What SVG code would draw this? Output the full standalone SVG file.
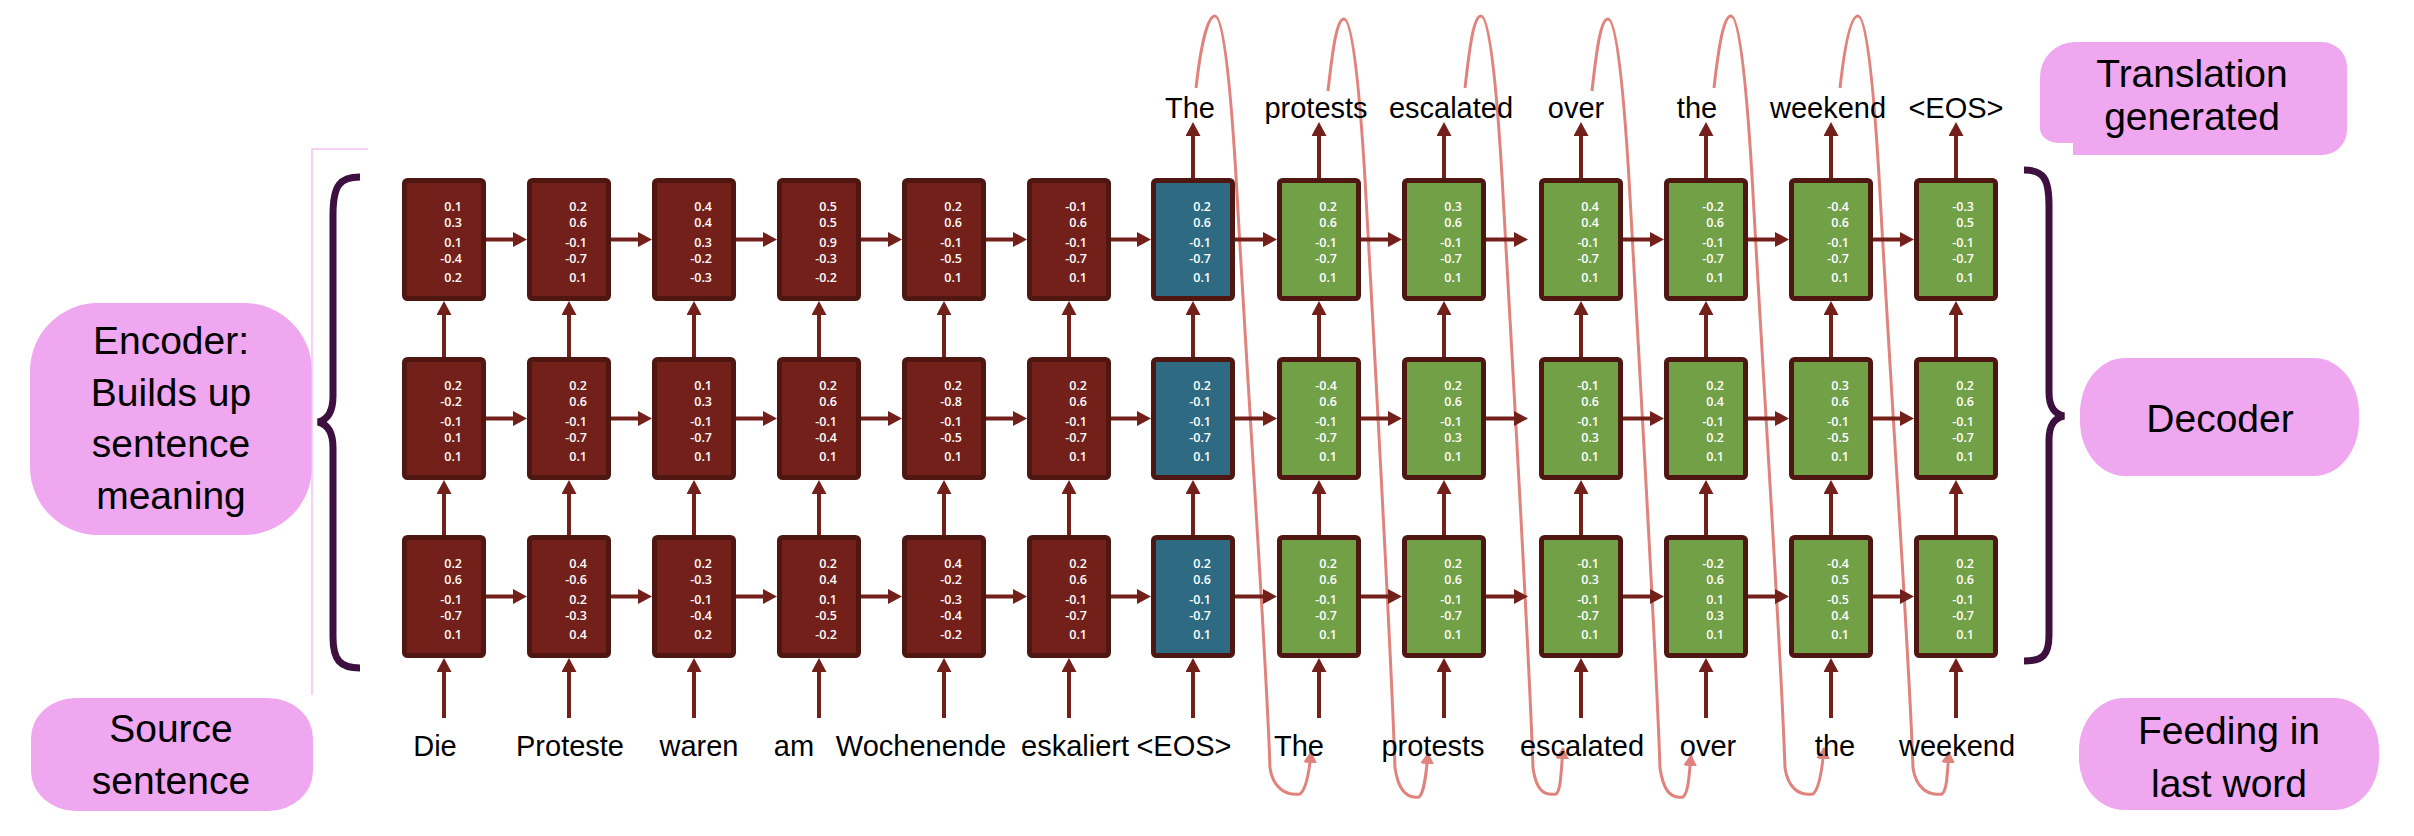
<svg xmlns="http://www.w3.org/2000/svg" width="2414" height="836" viewBox="0 0 2414 836">
  <style>
    .cell { stroke: #4f1712; stroke-width: 5; }
    .enc .cell { fill: #73201a; }
    .ctx .cell { fill: #2e6a82; }
    .dec .cell { fill: #71a047; }
    .v { font-family: "Open Sans", "Liberation Sans", sans-serif; font-size: 12.5px; font-weight: 600; fill: #ffffff; text-anchor: end; }
    .w { font-family: "Liberation Sans", Arial, sans-serif; font-size: 29px; fill: #000000; text-anchor: middle; }
    .lbl { font-family: "Liberation Sans", Arial, sans-serif; font-size: 39px; fill: #000000; text-anchor: middle; }
    .pink { fill: #efa7ef; }
    .arr { stroke: #73201a; stroke-width: 4; fill: none; marker-end: url(#ah); }
    .loop { stroke: #e0837d; stroke-width: 3; fill: none; marker-end: url(#sah); }
    .brace { stroke: #3e1040; stroke-width: 7; fill: none; }
  </style>
  <defs>
    <marker id="ah" viewBox="0 0 14 15" refX="4" refY="7.5" markerWidth="14" markerHeight="15" markerUnits="userSpaceOnUse" orient="auto">
      <path d="M0,0 L14,7.5 L0,15 Z" fill="#73201a"/>
    </marker>
    <marker id="sah" viewBox="0 0 12 14" refX="11" refY="7" markerWidth="12" markerHeight="14" markerUnits="userSpaceOnUse" orient="auto">
      <path d="M0,0 L12,7 L0,14 Z" fill="#e0837d"/>
    </marker>
  </defs>
  <rect width="2414" height="836" fill="#ffffff"/>

  <!-- side labels -->
  <g id="label-encoder">
    <rect class="pink" x="30" y="303" width="282" height="232" rx="68" ry="68"/>
    <text class="lbl" x="171" y="354">Encoder:</text>
    <text class="lbl" x="171" y="405.5">Builds up</text>
    <text class="lbl" x="171" y="457">sentence</text>
    <text class="lbl" x="171" y="508.5">meaning</text>
  </g>
  <g id="label-source">
    <rect class="pink" x="31" y="698" width="282" height="113" rx="45" ry="40"/>
    <text class="lbl" x="171" y="742">Source</text>
    <text class="lbl" x="171" y="794">sentence</text>
  </g>
  <g id="label-translation">
    <path class="pink" d="M2075,42 L2322,42 A25,25 0 0 1 2347,67 L2347,130 A25,25 0 0 1 2322,155 L2073,155 L2073,143 L2058,143 A18,15 0 0 1 2040,128 L2040,77 A35,35 0 0 1 2075,42 Z"/>
    <text class="lbl" x="2192" y="87">Translation</text>
    <text class="lbl" x="2192" y="130">generated</text>
  </g>
  <g id="label-decoder">
    <rect class="pink" x="2080" y="358" width="279" height="118" rx="45" ry="55"/>
    <text class="lbl" x="2220" y="432">Decoder</text>
  </g>
  <g id="label-feeding">
    <rect class="pink" x="2079" y="698" width="300" height="112" rx="45" ry="52"/>
    <text class="lbl" x="2229" y="744">Feeding in</text>
    <text class="lbl" x="2229" y="797">last word</text>
  </g>

  <!-- thin frame line beside the encoder label -->
  <path d="M368,149 L312,149 L312,695" stroke="#f2c2f2" stroke-width="1.5" fill="none"/>

  <!-- braces -->
  <g id="brace-encoder">
    <path class="brace" d="M360,177 C340,177 333,185 333,215 L333,396 C333,412 327,420 318,422 C327,424 333,432 333,448 L333,637 C333,660 340,668 360,668"/>
  </g>
  <g id="brace-decoder">
    <path class="brace" d="M2024,170 C2043,170 2049,178 2049,205 L2049,392 C2049,408 2055,414 2064,416 C2055,418 2049,424 2049,440 L2049,635 C2049,655 2043,661 2024,661"/>
  </g>

  <!-- feedback loops: each generated word is fed back in as the next input -->
  <g id="feedback">
    <path class="loop" d="M1196,88 C1201,43 1208,16 1215,16 C1223,16 1230,76 1236,176 C1251,446 1266,648 1270,768 C1273,788 1286,796 1300,794 C1305,790 1309,776 1311,752"/>
    <path class="loop" d="M1328,91 C1333,46 1337,19 1344,19 C1352,19 1359,79 1365,179 C1380,449 1391,648 1395,768 C1398,788 1405,799 1419,797 C1424,793 1426,777 1428,753"/>
    <path class="loop" d="M1465,88 C1470,43 1474,16 1481,16 C1489,16 1496,76 1502,176 C1517,446 1529,648 1533,768 C1536,788 1542,796 1556,794 C1561,790 1561,772 1563,748"/>
    <path class="loop" d="M1592,91 C1597,46 1601,19 1608,19 C1616,19 1623,79 1629,179 C1644,449 1656,648 1660,768 C1663,788 1669,799 1683,797 C1688,793 1689,779 1691,755"/>
    <path class="loop" d="M1714,88 C1719,43 1724,16 1731,16 C1739,16 1746,76 1752,176 C1767,446 1781,648 1785,768 C1788,788 1799,796 1813,794 C1818,790 1822,772 1824,748"/>
    <path class="loop" d="M1840,88 C1845,43 1851,16 1858,16 C1866,16 1873,76 1879,176 C1894,446 1909,648 1913,768 C1916,788 1928,796 1942,794 C1947,790 1947,776 1949,752"/>
  </g>

  <!-- recurrent links between time steps -->
  <g id="connectors">
    <line class="arr" x1="486" y1="239.5" x2="517" y2="239.5"/>
    <line class="arr" x1="611" y1="239.5" x2="642" y2="239.5"/>
    <line class="arr" x1="736" y1="239.5" x2="767" y2="239.5"/>
    <line class="arr" x1="861" y1="239.5" x2="892" y2="239.5"/>
    <line class="arr" x1="986" y1="239.5" x2="1017" y2="239.5"/>
    <line class="arr" x1="1111" y1="239.5" x2="1141" y2="239.5"/>
    <line class="arr" x1="1235" y1="239.5" x2="1267" y2="239.5"/>
    <line class="arr" x1="1361" y1="239.5" x2="1392" y2="239.5"/>
    <line class="arr" x1="1486" y1="239.5" x2="1518" y2="239.5"/>
    <line class="arr" x1="1623" y1="239.5" x2="1654" y2="239.5"/>
    <line class="arr" x1="1748" y1="239.5" x2="1779" y2="239.5"/>
    <line class="arr" x1="1873" y1="239.5" x2="1904" y2="239.5"/>

    <line class="arr" x1="486" y1="418.5" x2="517" y2="418.5"/>
    <line class="arr" x1="611" y1="418.5" x2="642" y2="418.5"/>
    <line class="arr" x1="736" y1="418.5" x2="767" y2="418.5"/>
    <line class="arr" x1="861" y1="418.5" x2="892" y2="418.5"/>
    <line class="arr" x1="986" y1="418.5" x2="1017" y2="418.5"/>
    <line class="arr" x1="1111" y1="418.5" x2="1141" y2="418.5"/>
    <line class="arr" x1="1235" y1="418.5" x2="1267" y2="418.5"/>
    <line class="arr" x1="1361" y1="418.5" x2="1392" y2="418.5"/>
    <line class="arr" x1="1486" y1="418.5" x2="1518" y2="418.5"/>
    <line class="arr" x1="1623" y1="418.5" x2="1654" y2="418.5"/>
    <line class="arr" x1="1748" y1="418.5" x2="1779" y2="418.5"/>
    <line class="arr" x1="1873" y1="418.5" x2="1904" y2="418.5"/>

    <line class="arr" x1="486" y1="596.5" x2="517" y2="596.5"/>
    <line class="arr" x1="611" y1="596.5" x2="642" y2="596.5"/>
    <line class="arr" x1="736" y1="596.5" x2="767" y2="596.5"/>
    <line class="arr" x1="861" y1="596.5" x2="892" y2="596.5"/>
    <line class="arr" x1="986" y1="596.5" x2="1017" y2="596.5"/>
    <line class="arr" x1="1111" y1="596.5" x2="1141" y2="596.5"/>
    <line class="arr" x1="1235" y1="596.5" x2="1267" y2="596.5"/>
    <line class="arr" x1="1361" y1="596.5" x2="1392" y2="596.5"/>
    <line class="arr" x1="1486" y1="596.5" x2="1518" y2="596.5"/>
    <line class="arr" x1="1623" y1="596.5" x2="1654" y2="596.5"/>
    <line class="arr" x1="1748" y1="596.5" x2="1779" y2="596.5"/>
    <line class="arr" x1="1873" y1="596.5" x2="1904" y2="596.5"/>
  </g>
  <!-- links between layers, word inputs and word outputs -->
  <g id="connectors-vertical">
    <line class="arr" x1="444" y1="718" x2="444" y2="668"/>
    <line class="arr" x1="569" y1="718" x2="569" y2="668"/>
    <line class="arr" x1="694" y1="718" x2="694" y2="668"/>
    <line class="arr" x1="819" y1="718" x2="819" y2="668"/>
    <line class="arr" x1="944" y1="718" x2="944" y2="668"/>
    <line class="arr" x1="1069" y1="718" x2="1069" y2="668"/>
    <line class="arr" x1="1193" y1="718" x2="1193" y2="668"/>
    <line class="arr" x1="1319" y1="718" x2="1319" y2="668"/>
    <line class="arr" x1="1444" y1="718" x2="1444" y2="668"/>
    <line class="arr" x1="1581" y1="718" x2="1581" y2="668"/>
    <line class="arr" x1="1706" y1="718" x2="1706" y2="668"/>
    <line class="arr" x1="1831" y1="718" x2="1831" y2="668"/>
    <line class="arr" x1="1956" y1="718" x2="1956" y2="668"/>

    <line class="arr" x1="444" y1="535" x2="444" y2="490"/>
    <line class="arr" x1="569" y1="535" x2="569" y2="490"/>
    <line class="arr" x1="694" y1="535" x2="694" y2="490"/>
    <line class="arr" x1="819" y1="535" x2="819" y2="490"/>
    <line class="arr" x1="944" y1="535" x2="944" y2="490"/>
    <line class="arr" x1="1069" y1="535" x2="1069" y2="490"/>
    <line class="arr" x1="1193" y1="535" x2="1193" y2="490"/>
    <line class="arr" x1="1319" y1="535" x2="1319" y2="490"/>
    <line class="arr" x1="1444" y1="535" x2="1444" y2="490"/>
    <line class="arr" x1="1581" y1="535" x2="1581" y2="490"/>
    <line class="arr" x1="1706" y1="535" x2="1706" y2="490"/>
    <line class="arr" x1="1831" y1="535" x2="1831" y2="490"/>
    <line class="arr" x1="1956" y1="535" x2="1956" y2="490"/>

    <line class="arr" x1="444" y1="357" x2="444" y2="311"/>
    <line class="arr" x1="569" y1="357" x2="569" y2="311"/>
    <line class="arr" x1="694" y1="357" x2="694" y2="311"/>
    <line class="arr" x1="819" y1="357" x2="819" y2="311"/>
    <line class="arr" x1="944" y1="357" x2="944" y2="311"/>
    <line class="arr" x1="1069" y1="357" x2="1069" y2="311"/>
    <line class="arr" x1="1193" y1="357" x2="1193" y2="311"/>
    <line class="arr" x1="1319" y1="357" x2="1319" y2="311"/>
    <line class="arr" x1="1444" y1="357" x2="1444" y2="311"/>
    <line class="arr" x1="1581" y1="357" x2="1581" y2="311"/>
    <line class="arr" x1="1706" y1="357" x2="1706" y2="311"/>
    <line class="arr" x1="1831" y1="357" x2="1831" y2="311"/>
    <line class="arr" x1="1956" y1="357" x2="1956" y2="311"/>

    <line class="arr" x1="1193" y1="178" x2="1193" y2="132"/>
    <line class="arr" x1="1319" y1="178" x2="1319" y2="132"/>
    <line class="arr" x1="1444" y1="178" x2="1444" y2="132"/>
    <line class="arr" x1="1581" y1="178" x2="1581" y2="132"/>
    <line class="arr" x1="1706" y1="178" x2="1706" y2="132"/>
    <line class="arr" x1="1831" y1="178" x2="1831" y2="132"/>
    <line class="arr" x1="1956" y1="178" x2="1956" y2="132"/>
  </g>

  <!-- encoder cells -->
  <g id="enc-c0-top" class="enc" transform="translate(402,178)"><rect class="cell" x="2.5" y="2.5" width="79" height="118" rx="3"/><text class="v"><tspan x="60" y="33">0.1</tspan><tspan x="60" y="48.5">0.3</tspan><tspan x="60" y="68.5">0.1</tspan><tspan x="60" y="85">-0.4</tspan><tspan x="60" y="104">0.2</tspan></text></g>
  <g id="enc-c0-mid" class="enc" transform="translate(402,357)"><rect class="cell" x="2.5" y="2.5" width="79" height="118" rx="3"/><text class="v"><tspan x="60" y="33">0.2</tspan><tspan x="60" y="48.5">-0.2</tspan><tspan x="60" y="68.5">-0.1</tspan><tspan x="60" y="85">0.1</tspan><tspan x="60" y="104">0.1</tspan></text></g>
  <g id="enc-c0-bot" class="enc" transform="translate(402,535)"><rect class="cell" x="2.5" y="2.5" width="79" height="118" rx="3"/><text class="v"><tspan x="60" y="33">0.2</tspan><tspan x="60" y="48.5">0.6</tspan><tspan x="60" y="68.5">-0.1</tspan><tspan x="60" y="85">-0.7</tspan><tspan x="60" y="104">0.1</tspan></text></g>

  <g id="enc-c1-top" class="enc" transform="translate(527,178)"><rect class="cell" x="2.5" y="2.5" width="79" height="118" rx="3"/><text class="v"><tspan x="60" y="33">0.2</tspan><tspan x="60" y="48.5">0.6</tspan><tspan x="60" y="68.5">-0.1</tspan><tspan x="60" y="85">-0.7</tspan><tspan x="60" y="104">0.1</tspan></text></g>
  <g id="enc-c1-mid" class="enc" transform="translate(527,357)"><rect class="cell" x="2.5" y="2.5" width="79" height="118" rx="3"/><text class="v"><tspan x="60" y="33">0.2</tspan><tspan x="60" y="48.5">0.6</tspan><tspan x="60" y="68.5">-0.1</tspan><tspan x="60" y="85">-0.7</tspan><tspan x="60" y="104">0.1</tspan></text></g>
  <g id="enc-c1-bot" class="enc" transform="translate(527,535)"><rect class="cell" x="2.5" y="2.5" width="79" height="118" rx="3"/><text class="v"><tspan x="60" y="33">0.4</tspan><tspan x="60" y="48.5">-0.6</tspan><tspan x="60" y="68.5">0.2</tspan><tspan x="60" y="85">-0.3</tspan><tspan x="60" y="104">0.4</tspan></text></g>

  <g id="enc-c2-top" class="enc" transform="translate(652,178)"><rect class="cell" x="2.5" y="2.5" width="79" height="118" rx="3"/><text class="v"><tspan x="60" y="33">0.4</tspan><tspan x="60" y="48.5">0.4</tspan><tspan x="60" y="68.5">0.3</tspan><tspan x="60" y="85">-0.2</tspan><tspan x="60" y="104">-0.3</tspan></text></g>
  <g id="enc-c2-mid" class="enc" transform="translate(652,357)"><rect class="cell" x="2.5" y="2.5" width="79" height="118" rx="3"/><text class="v"><tspan x="60" y="33">0.1</tspan><tspan x="60" y="48.5">0.3</tspan><tspan x="60" y="68.5">-0.1</tspan><tspan x="60" y="85">-0.7</tspan><tspan x="60" y="104">0.1</tspan></text></g>
  <g id="enc-c2-bot" class="enc" transform="translate(652,535)"><rect class="cell" x="2.5" y="2.5" width="79" height="118" rx="3"/><text class="v"><tspan x="60" y="33">0.2</tspan><tspan x="60" y="48.5">-0.3</tspan><tspan x="60" y="68.5">-0.1</tspan><tspan x="60" y="85">-0.4</tspan><tspan x="60" y="104">0.2</tspan></text></g>

  <g id="enc-c3-top" class="enc" transform="translate(777,178)"><rect class="cell" x="2.5" y="2.5" width="79" height="118" rx="3"/><text class="v"><tspan x="60" y="33">0.5</tspan><tspan x="60" y="48.5">0.5</tspan><tspan x="60" y="68.5">0.9</tspan><tspan x="60" y="85">-0.3</tspan><tspan x="60" y="104">-0.2</tspan></text></g>
  <g id="enc-c3-mid" class="enc" transform="translate(777,357)"><rect class="cell" x="2.5" y="2.5" width="79" height="118" rx="3"/><text class="v"><tspan x="60" y="33">0.2</tspan><tspan x="60" y="48.5">0.6</tspan><tspan x="60" y="68.5">-0.1</tspan><tspan x="60" y="85">-0.4</tspan><tspan x="60" y="104">0.1</tspan></text></g>
  <g id="enc-c3-bot" class="enc" transform="translate(777,535)"><rect class="cell" x="2.5" y="2.5" width="79" height="118" rx="3"/><text class="v"><tspan x="60" y="33">0.2</tspan><tspan x="60" y="48.5">0.4</tspan><tspan x="60" y="68.5">0.1</tspan><tspan x="60" y="85">-0.5</tspan><tspan x="60" y="104">-0.2</tspan></text></g>

  <g id="enc-c4-top" class="enc" transform="translate(902,178)"><rect class="cell" x="2.5" y="2.5" width="79" height="118" rx="3"/><text class="v"><tspan x="60" y="33">0.2</tspan><tspan x="60" y="48.5">0.6</tspan><tspan x="60" y="68.5">-0.1</tspan><tspan x="60" y="85">-0.5</tspan><tspan x="60" y="104">0.1</tspan></text></g>
  <g id="enc-c4-mid" class="enc" transform="translate(902,357)"><rect class="cell" x="2.5" y="2.5" width="79" height="118" rx="3"/><text class="v"><tspan x="60" y="33">0.2</tspan><tspan x="60" y="48.5">-0.8</tspan><tspan x="60" y="68.5">-0.1</tspan><tspan x="60" y="85">-0.5</tspan><tspan x="60" y="104">0.1</tspan></text></g>
  <g id="enc-c4-bot" class="enc" transform="translate(902,535)"><rect class="cell" x="2.5" y="2.5" width="79" height="118" rx="3"/><text class="v"><tspan x="60" y="33">0.4</tspan><tspan x="60" y="48.5">-0.2</tspan><tspan x="60" y="68.5">-0.3</tspan><tspan x="60" y="85">-0.4</tspan><tspan x="60" y="104">-0.2</tspan></text></g>

  <g id="enc-c5-top" class="enc" transform="translate(1027,178)"><rect class="cell" x="2.5" y="2.5" width="79" height="118" rx="3"/><text class="v"><tspan x="60" y="33">-0.1</tspan><tspan x="60" y="48.5">0.6</tspan><tspan x="60" y="68.5">-0.1</tspan><tspan x="60" y="85">-0.7</tspan><tspan x="60" y="104">0.1</tspan></text></g>
  <g id="enc-c5-mid" class="enc" transform="translate(1027,357)"><rect class="cell" x="2.5" y="2.5" width="79" height="118" rx="3"/><text class="v"><tspan x="60" y="33">0.2</tspan><tspan x="60" y="48.5">0.6</tspan><tspan x="60" y="68.5">-0.1</tspan><tspan x="60" y="85">-0.7</tspan><tspan x="60" y="104">0.1</tspan></text></g>
  <g id="enc-c5-bot" class="enc" transform="translate(1027,535)"><rect class="cell" x="2.5" y="2.5" width="79" height="118" rx="3"/><text class="v"><tspan x="60" y="33">0.2</tspan><tspan x="60" y="48.5">0.6</tspan><tspan x="60" y="68.5">-0.1</tspan><tspan x="60" y="85">-0.7</tspan><tspan x="60" y="104">0.1</tspan></text></g>

  <!-- end-of-sentence step: the encoded sentence -->
  <g id="ctx-c6-top" class="ctx" transform="translate(1151,178)"><rect class="cell" x="2.5" y="2.5" width="79" height="118" rx="3"/><text class="v"><tspan x="60" y="33">0.2</tspan><tspan x="60" y="48.5">0.6</tspan><tspan x="60" y="68.5">-0.1</tspan><tspan x="60" y="85">-0.7</tspan><tspan x="60" y="104">0.1</tspan></text></g>
  <g id="ctx-c6-mid" class="ctx" transform="translate(1151,357)"><rect class="cell" x="2.5" y="2.5" width="79" height="118" rx="3"/><text class="v"><tspan x="60" y="33">0.2</tspan><tspan x="60" y="48.5">-0.1</tspan><tspan x="60" y="68.5">-0.1</tspan><tspan x="60" y="85">-0.7</tspan><tspan x="60" y="104">0.1</tspan></text></g>
  <g id="ctx-c6-bot" class="ctx" transform="translate(1151,535)"><rect class="cell" x="2.5" y="2.5" width="79" height="118" rx="3"/><text class="v"><tspan x="60" y="33">0.2</tspan><tspan x="60" y="48.5">0.6</tspan><tspan x="60" y="68.5">-0.1</tspan><tspan x="60" y="85">-0.7</tspan><tspan x="60" y="104">0.1</tspan></text></g>

  <!-- decoder cells -->
  <g id="dec-c7-top" class="dec" transform="translate(1277,178)"><rect class="cell" x="2.5" y="2.5" width="79" height="118" rx="3"/><text class="v"><tspan x="60" y="33">0.2</tspan><tspan x="60" y="48.5">0.6</tspan><tspan x="60" y="68.5">-0.1</tspan><tspan x="60" y="85">-0.7</tspan><tspan x="60" y="104">0.1</tspan></text></g>
  <g id="dec-c7-mid" class="dec" transform="translate(1277,357)"><rect class="cell" x="2.5" y="2.5" width="79" height="118" rx="3"/><text class="v"><tspan x="60" y="33">-0.4</tspan><tspan x="60" y="48.5">0.6</tspan><tspan x="60" y="68.5">-0.1</tspan><tspan x="60" y="85">-0.7</tspan><tspan x="60" y="104">0.1</tspan></text></g>
  <g id="dec-c7-bot" class="dec" transform="translate(1277,535)"><rect class="cell" x="2.5" y="2.5" width="79" height="118" rx="3"/><text class="v"><tspan x="60" y="33">0.2</tspan><tspan x="60" y="48.5">0.6</tspan><tspan x="60" y="68.5">-0.1</tspan><tspan x="60" y="85">-0.7</tspan><tspan x="60" y="104">0.1</tspan></text></g>

  <g id="dec-c8-top" class="dec" transform="translate(1402,178)"><rect class="cell" x="2.5" y="2.5" width="79" height="118" rx="3"/><text class="v"><tspan x="60" y="33">0.3</tspan><tspan x="60" y="48.5">0.6</tspan><tspan x="60" y="68.5">-0.1</tspan><tspan x="60" y="85">-0.7</tspan><tspan x="60" y="104">0.1</tspan></text></g>
  <g id="dec-c8-mid" class="dec" transform="translate(1402,357)"><rect class="cell" x="2.5" y="2.5" width="79" height="118" rx="3"/><text class="v"><tspan x="60" y="33">0.2</tspan><tspan x="60" y="48.5">0.6</tspan><tspan x="60" y="68.5">-0.1</tspan><tspan x="60" y="85">0.3</tspan><tspan x="60" y="104">0.1</tspan></text></g>
  <g id="dec-c8-bot" class="dec" transform="translate(1402,535)"><rect class="cell" x="2.5" y="2.5" width="79" height="118" rx="3"/><text class="v"><tspan x="60" y="33">0.2</tspan><tspan x="60" y="48.5">0.6</tspan><tspan x="60" y="68.5">-0.1</tspan><tspan x="60" y="85">-0.7</tspan><tspan x="60" y="104">0.1</tspan></text></g>

  <g id="dec-c9-top" class="dec" transform="translate(1539,178)"><rect class="cell" x="2.5" y="2.5" width="79" height="118" rx="3"/><text class="v"><tspan x="60" y="33">0.4</tspan><tspan x="60" y="48.5">0.4</tspan><tspan x="60" y="68.5">-0.1</tspan><tspan x="60" y="85">-0.7</tspan><tspan x="60" y="104">0.1</tspan></text></g>
  <g id="dec-c9-mid" class="dec" transform="translate(1539,357)"><rect class="cell" x="2.5" y="2.5" width="79" height="118" rx="3"/><text class="v"><tspan x="60" y="33">-0.1</tspan><tspan x="60" y="48.5">0.6</tspan><tspan x="60" y="68.5">-0.1</tspan><tspan x="60" y="85">0.3</tspan><tspan x="60" y="104">0.1</tspan></text></g>
  <g id="dec-c9-bot" class="dec" transform="translate(1539,535)"><rect class="cell" x="2.5" y="2.5" width="79" height="118" rx="3"/><text class="v"><tspan x="60" y="33">-0.1</tspan><tspan x="60" y="48.5">0.3</tspan><tspan x="60" y="68.5">-0.1</tspan><tspan x="60" y="85">-0.7</tspan><tspan x="60" y="104">0.1</tspan></text></g>

  <g id="dec-c10-top" class="dec" transform="translate(1664,178)"><rect class="cell" x="2.5" y="2.5" width="79" height="118" rx="3"/><text class="v"><tspan x="60" y="33">-0.2</tspan><tspan x="60" y="48.5">0.6</tspan><tspan x="60" y="68.5">-0.1</tspan><tspan x="60" y="85">-0.7</tspan><tspan x="60" y="104">0.1</tspan></text></g>
  <g id="dec-c10-mid" class="dec" transform="translate(1664,357)"><rect class="cell" x="2.5" y="2.5" width="79" height="118" rx="3"/><text class="v"><tspan x="60" y="33">0.2</tspan><tspan x="60" y="48.5">0.4</tspan><tspan x="60" y="68.5">-0.1</tspan><tspan x="60" y="85">0.2</tspan><tspan x="60" y="104">0.1</tspan></text></g>
  <g id="dec-c10-bot" class="dec" transform="translate(1664,535)"><rect class="cell" x="2.5" y="2.5" width="79" height="118" rx="3"/><text class="v"><tspan x="60" y="33">-0.2</tspan><tspan x="60" y="48.5">0.6</tspan><tspan x="60" y="68.5">0.1</tspan><tspan x="60" y="85">0.3</tspan><tspan x="60" y="104">0.1</tspan></text></g>

  <g id="dec-c11-top" class="dec" transform="translate(1789,178)"><rect class="cell" x="2.5" y="2.5" width="79" height="118" rx="3"/><text class="v"><tspan x="60" y="33">-0.4</tspan><tspan x="60" y="48.5">0.6</tspan><tspan x="60" y="68.5">-0.1</tspan><tspan x="60" y="85">-0.7</tspan><tspan x="60" y="104">0.1</tspan></text></g>
  <g id="dec-c11-mid" class="dec" transform="translate(1789,357)"><rect class="cell" x="2.5" y="2.5" width="79" height="118" rx="3"/><text class="v"><tspan x="60" y="33">0.3</tspan><tspan x="60" y="48.5">0.6</tspan><tspan x="60" y="68.5">-0.1</tspan><tspan x="60" y="85">-0.5</tspan><tspan x="60" y="104">0.1</tspan></text></g>
  <g id="dec-c11-bot" class="dec" transform="translate(1789,535)"><rect class="cell" x="2.5" y="2.5" width="79" height="118" rx="3"/><text class="v"><tspan x="60" y="33">-0.4</tspan><tspan x="60" y="48.5">0.5</tspan><tspan x="60" y="68.5">-0.5</tspan><tspan x="60" y="85">0.4</tspan><tspan x="60" y="104">0.1</tspan></text></g>

  <g id="dec-c12-top" class="dec" transform="translate(1914,178)"><rect class="cell" x="2.5" y="2.5" width="79" height="118" rx="3"/><text class="v"><tspan x="60" y="33">-0.3</tspan><tspan x="60" y="48.5">0.5</tspan><tspan x="60" y="68.5">-0.1</tspan><tspan x="60" y="85">-0.7</tspan><tspan x="60" y="104">0.1</tspan></text></g>
  <g id="dec-c12-mid" class="dec" transform="translate(1914,357)"><rect class="cell" x="2.5" y="2.5" width="79" height="118" rx="3"/><text class="v"><tspan x="60" y="33">0.2</tspan><tspan x="60" y="48.5">0.6</tspan><tspan x="60" y="68.5">-0.1</tspan><tspan x="60" y="85">-0.7</tspan><tspan x="60" y="104">0.1</tspan></text></g>
  <g id="dec-c12-bot" class="dec" transform="translate(1914,535)"><rect class="cell" x="2.5" y="2.5" width="79" height="118" rx="3"/><text class="v"><tspan x="60" y="33">0.2</tspan><tspan x="60" y="48.5">0.6</tspan><tspan x="60" y="68.5">-0.1</tspan><tspan x="60" y="85">-0.7</tspan><tspan x="60" y="104">0.1</tspan></text></g>

  <!-- input words -->
  <g id="inputs">
    <text class="w" x="435" y="756">Die</text>
    <text class="w" x="570" y="756">Proteste</text>
    <text class="w" x="699" y="756">waren</text>
    <text class="w" x="794" y="756">am</text>
    <text class="w" x="921" y="756">Wochenende</text>
    <text class="w" x="1075" y="756">eskaliert</text>
    <text class="w" x="1184" y="756">&lt;EOS&gt;</text>
    <text class="w" x="1299" y="756">The</text>
    <text class="w" x="1433" y="756">protests</text>
    <text class="w" x="1582" y="756">escalated</text>
    <text class="w" x="1708" y="756">over</text>
    <text class="w" x="1835" y="756">the</text>
    <text class="w" x="1957" y="756">weekend</text>
  </g>

  <!-- output words -->
  <g id="outputs">
    <text class="w" x="1190" y="118">The</text>
    <text class="w" x="1316" y="118">protests</text>
    <text class="w" x="1451" y="118">escalated</text>
    <text class="w" x="1576" y="118">over</text>
    <text class="w" x="1697" y="118">the</text>
    <text class="w" x="1828" y="118">weekend</text>
    <text class="w" x="1956" y="118">&lt;EOS&gt;</text>
  </g>
</svg>
